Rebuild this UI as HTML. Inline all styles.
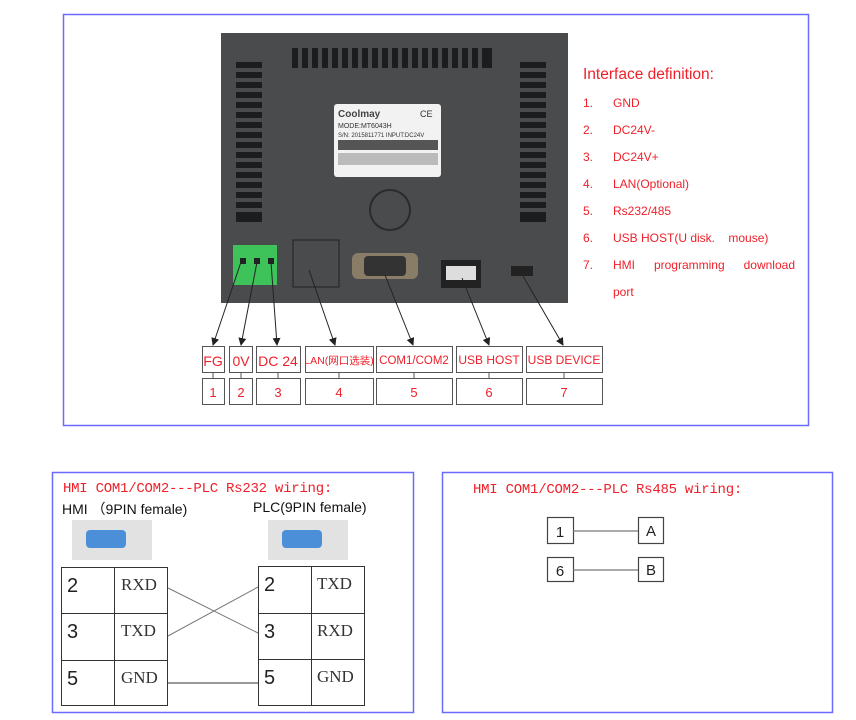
<!DOCTYPE html>
<html><head><meta charset="utf-8"><style>
body{margin:0;width:856px;height:720px;background:#fff;position:relative;overflow:hidden;font-family:"Liberation Sans","Noto Sans CJK SC",sans-serif}
.a{position:absolute}
.r{color:#f0202a}
.d{position:absolute;font-size:12px;color:#f0202a}
</style></head><body>
<svg class="a" style="left:0;top:0" width="856" height="720" xmlns="http://www.w3.org/2000/svg">
<defs><marker id="ar" markerWidth="8" markerHeight="8" refX="7" refY="4" orient="auto"><path d="M0,0 L8,4 L0,8 z" fill="#222"/></marker></defs>
<rect x="63.5" y="14.5" width="745" height="411" fill="none" stroke="#6b6bff" stroke-width="1.5"/>
<rect x="52.5" y="472.5" width="361" height="240" fill="none" stroke="#6b6bff" stroke-width="1.5"/>
<rect x="442.5" y="472.5" width="390" height="240" fill="none" stroke="#6b6bff" stroke-width="1.5"/>
<rect x="221" y="33" width="347" height="270" fill="#4a4b4d"/>
<g fill="#1c1d1e">
<rect x="292" y="48" width="200" height="20"/>
<rect x="236" y="62" width="26" height="160"/>
<rect x="520" y="62" width="26" height="160"/>
</g>
<g fill="#4a4b4d">
<rect x="298" y="48" width="4" height="20"/><rect x="308" y="48" width="4" height="20"/><rect x="318" y="48" width="4" height="20"/><rect x="328" y="48" width="4" height="20"/><rect x="338" y="48" width="4" height="20"/><rect x="348" y="48" width="4" height="20"/><rect x="358" y="48" width="4" height="20"/><rect x="368" y="48" width="4" height="20"/><rect x="378" y="48" width="4" height="20"/><rect x="388" y="48" width="4" height="20"/><rect x="398" y="48" width="4" height="20"/><rect x="408" y="48" width="4" height="20"/><rect x="418" y="48" width="4" height="20"/><rect x="428" y="48" width="4" height="20"/><rect x="438" y="48" width="4" height="20"/><rect x="448" y="48" width="4" height="20"/><rect x="458" y="48" width="4" height="20"/><rect x="468" y="48" width="4" height="20"/><rect x="478" y="48" width="4" height="20"/>
</g>
<g stroke="#4a4b4d" stroke-width="4">
<line x1="236" y1="70" x2="262" y2="70"/><line x1="236" y1="80" x2="262" y2="80"/><line x1="236" y1="90" x2="262" y2="90"/><line x1="236" y1="100" x2="262" y2="100"/><line x1="236" y1="110" x2="262" y2="110"/><line x1="236" y1="120" x2="262" y2="120"/><line x1="236" y1="130" x2="262" y2="130"/><line x1="236" y1="140" x2="262" y2="140"/><line x1="236" y1="150" x2="262" y2="150"/><line x1="236" y1="160" x2="262" y2="160"/><line x1="236" y1="170" x2="262" y2="170"/><line x1="236" y1="180" x2="262" y2="180"/><line x1="236" y1="190" x2="262" y2="190"/><line x1="236" y1="200" x2="262" y2="200"/><line x1="236" y1="210" x2="262" y2="210"/>
<line x1="520" y1="70" x2="546" y2="70"/><line x1="520" y1="80" x2="546" y2="80"/><line x1="520" y1="90" x2="546" y2="90"/><line x1="520" y1="100" x2="546" y2="100"/><line x1="520" y1="110" x2="546" y2="110"/><line x1="520" y1="120" x2="546" y2="120"/><line x1="520" y1="130" x2="546" y2="130"/><line x1="520" y1="140" x2="546" y2="140"/><line x1="520" y1="150" x2="546" y2="150"/><line x1="520" y1="160" x2="546" y2="160"/><line x1="520" y1="170" x2="546" y2="170"/><line x1="520" y1="180" x2="546" y2="180"/><line x1="520" y1="190" x2="546" y2="190"/><line x1="520" y1="200" x2="546" y2="200"/><line x1="520" y1="210" x2="546" y2="210"/>
</g>
<rect x="334" y="104" width="107" height="73" rx="3" fill="#f2f2f2"/>
<text x="338" y="117" font-size="10" font-weight="bold" fill="#444" font-family="Liberation Sans">Coolmay</text>
<text x="420" y="117" font-size="9" fill="#333" font-family="Liberation Sans">CE</text>
<text x="338" y="128" font-size="7" fill="#333" font-family="Liberation Sans">MODE:MT6043H</text>
<text x="338" y="137" font-size="6" fill="#333" font-family="Liberation Sans">S/N: 2015811771  INPUT:DC24V</text>
<rect x="338" y="140" width="100" height="10" fill="#555"/>
<rect x="338" y="153" width="100" height="12" fill="#bbb"/>
<circle cx="390" cy="210" r="20" fill="none" stroke="#2a2b2c" stroke-width="2"/>
<rect x="233" y="245" width="44" height="40" fill="#3ec25a"/>
<rect x="240" y="258" width="6" height="6" fill="#222"/><rect x="254" y="258" width="6" height="6" fill="#222"/><rect x="268" y="258" width="6" height="6" fill="#222"/>
<rect x="293" y="240" width="46" height="47" fill="none" stroke="#222" stroke-width="1"/>
<rect x="352" y="253" width="66" height="26" rx="6" fill="#8a7d68"/>
<rect x="364" y="256" width="42" height="20" rx="4" fill="#333"/>
<rect x="441" y="260" width="40" height="28" fill="#222"/>
<rect x="446" y="266" width="30" height="14" fill="#ddd"/>
<rect x="511" y="266" width="22" height="10" fill="#222"/>
<g stroke="#222" stroke-width="1" marker-end="url(#ar)">
<line x1="241" y1="262" x2="213" y2="345"/>
<line x1="257" y1="262" x2="241" y2="345"/>
<line x1="271" y1="262" x2="277" y2="345"/>
<line x1="309" y1="270" x2="335" y2="345"/>
<line x1="385" y1="275" x2="413" y2="345"/>
<line x1="462" y1="278" x2="489" y2="345"/>
<line x1="523" y1="276" x2="563" y2="345"/>
</g>
<g fill="#fff" stroke="#555" stroke-width="1">
<rect x="202.5" y="346.5" width="22" height="26"/><rect x="229.5" y="346.5" width="23" height="26"/><rect x="256.5" y="346.5" width="44" height="26"/><rect x="305.5" y="346.5" width="68" height="26"/><rect x="376.5" y="346.5" width="76" height="26"/><rect x="456.5" y="346.5" width="66" height="26"/><rect x="526.5" y="346.5" width="76" height="26"/>
<rect x="202.5" y="378.5" width="22" height="26"/><rect x="229.5" y="378.5" width="23" height="26"/><rect x="256.5" y="378.5" width="44" height="26"/><rect x="305.5" y="378.5" width="68" height="26"/><rect x="376.5" y="378.5" width="76" height="26"/><rect x="456.5" y="378.5" width="66" height="26"/><rect x="526.5" y="378.5" width="76" height="26"/>
<line x1="213" y1="372" x2="213" y2="378"/><line x1="241" y1="372" x2="241" y2="378"/><line x1="278" y1="372" x2="278" y2="378"/><line x1="339" y1="372" x2="339" y2="378"/><line x1="414" y1="372" x2="414" y2="378"/><line x1="489" y1="372" x2="489" y2="378"/><line x1="564" y1="372" x2="564" y2="378"/>
</g>
<g fill="#f0202a" font-family="Liberation Sans,Noto Sans CJK SC,sans-serif" text-anchor="middle">
<text x="213" y="366" font-size="14">FG</text><text x="241" y="366" font-size="14">0V</text><text x="278" y="366" font-size="14">DC 24</text>
<text x="339" y="364" font-size="10.5">LAN(网口选装)</text><text x="414" y="364" font-size="11.5">COM1/COM2</text><text x="489" y="364" font-size="12">USB HOST</text><text x="564" y="364" font-size="12">USB DEVICE</text>
<text x="213" y="397" font-size="13">1</text><text x="241" y="397" font-size="13">2</text><text x="278" y="397" font-size="13">3</text><text x="339" y="397" font-size="13">4</text><text x="414" y="397" font-size="13">5</text><text x="489" y="397" font-size="13">6</text><text x="564" y="397" font-size="13">7</text>
</g>
<rect x="72" y="520" width="80" height="40" fill="#e2e2e2"/><rect x="86" y="530" width="40" height="18" rx="4" fill="#4a8fd8"/>
<rect x="268" y="520" width="80" height="40" fill="#e2e2e2"/><rect x="282" y="530" width="40" height="18" rx="4" fill="#4a8fd8"/>
<g fill="none" stroke="#333" stroke-width="1">
<rect x="61.5" y="567.5" width="106" height="138"/><line x1="114.5" y1="567" x2="114.5" y2="706"/><line x1="61" y1="613.5" x2="168" y2="613.5"/><line x1="61" y1="660.5" x2="168" y2="660.5"/>
<rect x="258.5" y="566.5" width="106" height="139"/><line x1="311.5" y1="566" x2="311.5" y2="706"/><line x1="258" y1="613.5" x2="365" y2="613.5"/><line x1="258" y1="659.5" x2="365" y2="659.5"/>
<line x1="168" y1="588" x2="258" y2="633" stroke="#777"/><line x1="168" y1="636" x2="258" y2="587" stroke="#777"/>
<line x1="168" y1="683" x2="258" y2="683"/>
</g>
<g font-size="20" fill="#222" font-family="Liberation Sans">
<text x="67" y="592">2</text><text x="67" y="638">3</text><text x="67" y="685">5</text>
<text x="264" y="591">2</text><text x="264" y="638">3</text><text x="264" y="684">5</text>
</g>
<g font-size="17" fill="#333" font-family="Liberation Serif">
<text x="121" y="590">RXD</text><text x="121" y="636">TXD</text><text x="121" y="683">GND</text>
<text x="317" y="589">TXD</text><text x="317" y="636">RXD</text><text x="317" y="682">GND</text>
</g>
<g fill="none" stroke="#444" stroke-width="1.2">
<rect x="547.5" y="517.5" width="26" height="26"/><rect x="638.5" y="517.5" width="25" height="26"/>
<rect x="547.5" y="557.5" width="26" height="24"/><rect x="638.5" y="557.5" width="25" height="24"/>
<line x1="573" y1="531" x2="638" y2="531" stroke="#777"/><line x1="573" y1="570" x2="638" y2="570" stroke="#777"/>
</g>
<g font-size="15" fill="#222" font-family="Liberation Sans" text-anchor="middle">
<text x="560" y="537">1</text><text x="651" y="536">A</text><text x="560" y="576">6</text><text x="651" y="575">B</text>
</g>
</svg>
<div class="a r" style="left:583px;top:66px;font-size:15.5px">Interface definition:</div>
<div class="d" style="left:583px;top:96px">1.</div><div class="d" style="left:613px;top:96px">GND</div>
<div class="d" style="left:583px;top:123px">2.</div><div class="d" style="left:613px;top:123px">DC24V-</div>
<div class="d" style="left:583px;top:150px">3.</div><div class="d" style="left:613px;top:150px">DC24V+</div>
<div class="d" style="left:583px;top:177px">4.</div><div class="d" style="left:613px;top:177px">LAN(Optional)</div>
<div class="d" style="left:583px;top:204px">5.</div><div class="d" style="left:613px;top:204px">Rs232/485</div>
<div class="d" style="left:583px;top:231px">6.</div><div class="d" style="left:613px;top:231px">USB HOST(U disk.&nbsp;&nbsp;&nbsp; mouse)</div>
<div class="d" style="left:583px;top:258px">7.</div><div class="d" style="left:613px;top:258px;width:182px;text-align:justify;text-align-last:justify">HMI programming download</div>
<div class="d" style="left:613px;top:285px">port</div>
<div class="a r" style="left:63px;top:481px;font-size:14px;font-family:'Liberation Mono',monospace;letter-spacing:-0.25px">HMI COM1/COM2---PLC Rs232 wiring:</div>
<div class="a" style="left:62px;top:499px;font-size:14px;color:#111">HMI （9PIN female)</div>
<div class="a" style="left:253px;top:499px;font-size:14px;color:#111">PLC(9PIN female)</div>
<div class="a r" style="left:473px;top:482px;font-size:14px;font-family:'Liberation Mono',monospace;letter-spacing:-0.25px">HMI COM1/COM2---PLC Rs485 wiring:</div>
</body></html>
